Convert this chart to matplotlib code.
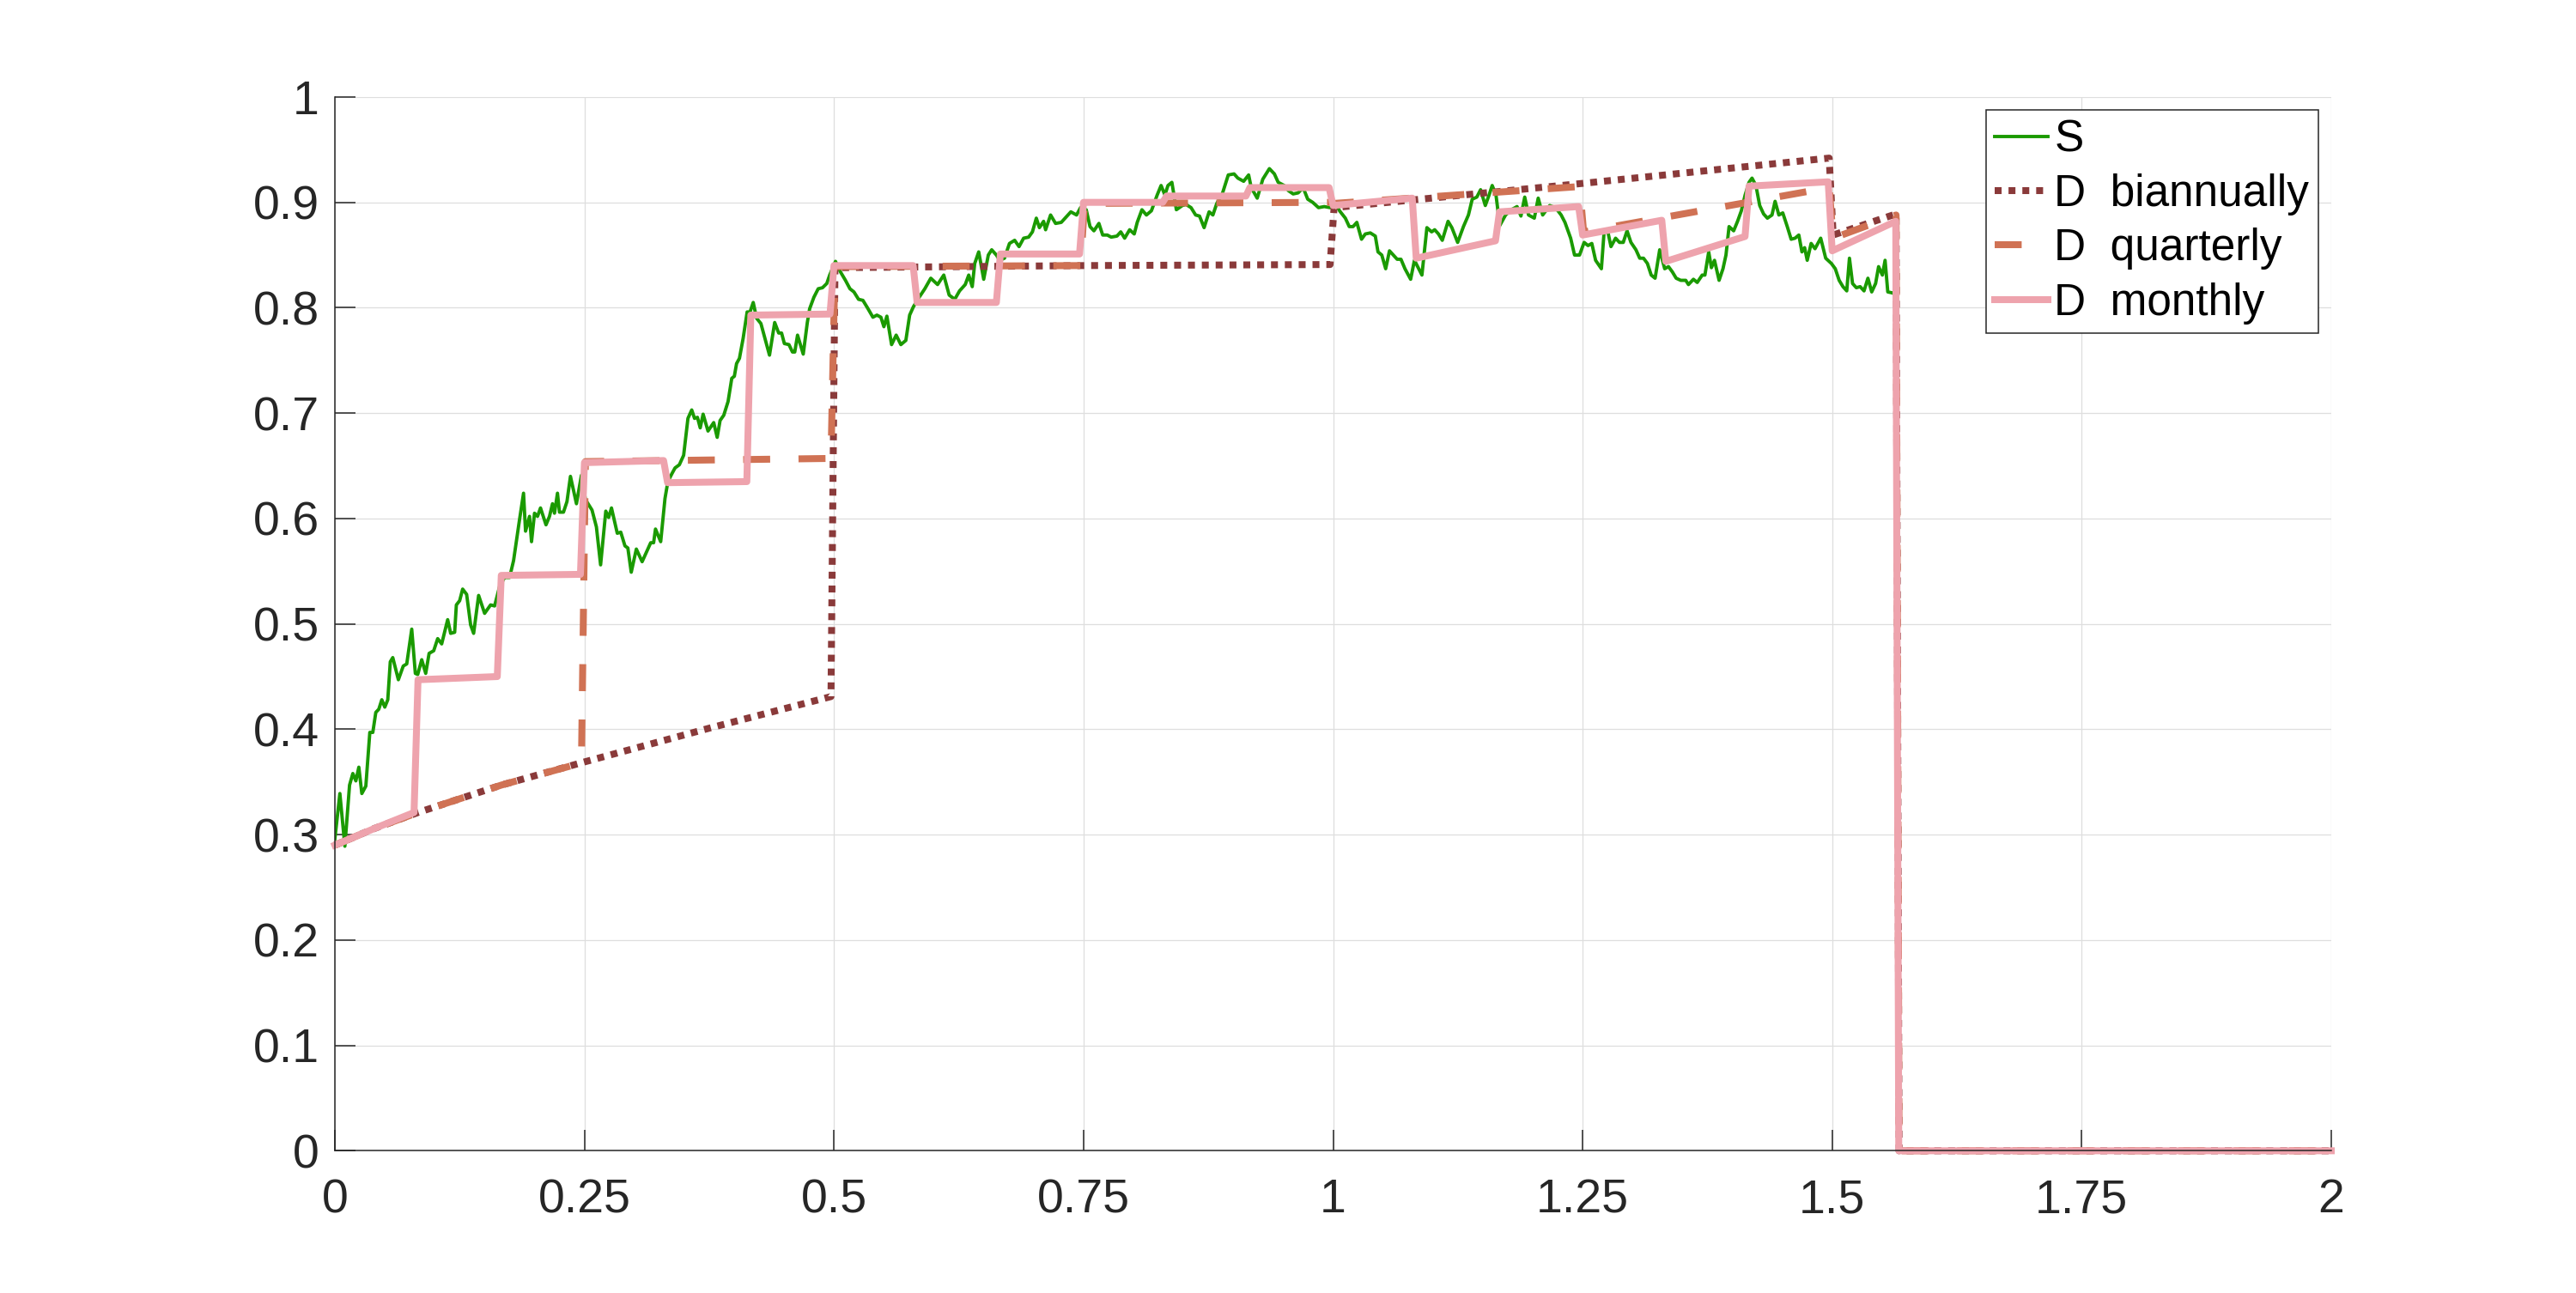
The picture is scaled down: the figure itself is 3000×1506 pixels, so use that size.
import numpy as np
import matplotlib.pyplot as plt

# S path
s_t = [0.000, 0.005, 0.010, 0.0147, 0.018, 0.021, 0.024, 0.027, 0.031, 0.035, 0.038, 0.041, 0.044, 0.047,
       0.050, 0.053, 0.0555, 0.058, 0.0636, 0.0685, 0.072, 0.077, 0.0806, 0.083, 0.087, 0.091, 0.0944, 0.099,
       0.103, 0.107, 0.113, 0.116, 0.120, 0.1217, 0.125, 0.128, 0.132, 0.136, 0.139, 0.144, 0.150, 0.156,
       0.160, 0.165, 0.170, 0.175, 0.179, 0.185, 0.189, 0.191, 0.195, 0.197, 0.200, 0.203, 0.206, 0.2115,
       0.215, 0.218, 0.220, 0.223, 0.225, 0.229, 0.2325, 0.236, 0.242, 0.247, 0.251,
       0.2576, 0.262, 0.2662, 0.2714, 0.2743, 0.2771, 0.2829, 0.2864, 0.2906, 0.2935, 0.2969, 0.3020, 0.3078,
       0.3164, 0.3193, 0.3212, 0.3264, 0.3307, 0.3336, 0.3379, 0.3408, 0.3451, 0.3494, 0.3537, 0.3575, 0.3603,
       0.3632, 0.3660, 0.3689, 0.3738, 0.3795, 0.3830, 0.3859, 0.3896, 0.3939, 0.3976, 0.4002, 0.4024, 0.4053,
       0.4090, 0.4130, 0.4159, 0.4191, 0.4225, 0.4268, 0.4311, 0.4354, 0.4406, 0.4446, 0.4475, 0.4503, 0.4549,
       0.4584, 0.4607, 0.4635, 0.4692, 0.4733, 0.4756, 0.4799, 0.4842, 0.4885, 0.4928, 0.4957,
       0.5015, 0.5065, 0.5115, 0.516, 0.520, 0.5246, 0.529, 0.5335, 0.539, 0.543, 0.547, 0.550, 0.553, 0.5577,
       0.5623, 0.567, 0.572, 0.5758, 0.5796, 0.5854, 0.591, 0.597, 0.6038, 0.610, 0.6154, 0.621, 0.6258, 0.6315,
       0.635, 0.6385, 0.641, 0.645, 0.650, 0.6546, 0.658, 0.6627, 0.666, 0.6708, 0.6758, 0.681, 0.6854, 0.690,
       0.695, 0.6988, 0.7027, 0.7058, 0.710, 0.712, 0.717, 0.722, 0.7277, 0.7335, 0.7373, 0.743, 0.747, 0.7527,
       0.7565, 0.7604, 0.7654, 0.7692, 0.7738, 0.7777, 0.7835, 0.7873, 0.7912, 0.7962, 0.8008, 0.8038, 0.8085,
       0.813, 0.818, 0.8238, 0.8277, 0.8315, 0.8346, 0.8385, 0.843, 0.849, 0.8527, 0.8577, 0.8623, 0.8662,
       0.8708, 0.8758, 0.8796, 0.8835, 0.889, 0.895, 0.9008, 0.9046, 0.9104, 0.9154, 0.918, 0.924, 0.9296,
       0.9362, 0.9412, 0.945, 0.951, 0.9554, 0.960, 0.965, 0.970, 0.9746, 0.9796, 0.9854, 0.9912, 0.9969,
       1.0027, 1.0065, 1.0123, 1.0162, 1.020, 1.0238, 1.0285, 1.0323, 1.0373, 1.0423, 1.045, 1.0488, 1.0527,
       1.0565, 1.0604, 1.0642, 1.068, 1.072, 1.0777, 1.0815,
       1.0826, 1.089, 1.094, 1.0987, 1.1018, 1.1056, 1.1094, 1.1152, 1.119, 1.1248, 1.1306, 1.1356, 1.1394,
       1.144, 1.1478, 1.1525, 1.1563, 1.1594, 1.1632, 1.167, 1.1728, 1.1786, 1.1843, 1.1882, 1.192, 1.1958,
       1.2016, 1.2055, 1.21, 1.217, 1.2228, 1.2285, 1.2323, 1.238, 1.2419, 1.2469, 1.2515, 1.2554, 1.2592,
       1.263, 1.2688, 1.2715, 1.2753, 1.2784, 1.283, 1.2869, 1.2907, 1.2945, 1.2984, 1.3034, 1.3072, 1.311,
       1.3149, 1.3187, 1.3226, 1.3272, 1.3322, 1.336, 1.3399, 1.3437, 1.3483, 1.3533, 1.3560, 1.361, 1.3648,
       1.3698, 1.3725, 1.3763, 1.379, 1.3821, 1.3867, 1.3906, 1.3936, 1.3967, 1.4013, 1.4052, 1.409, 1.4128,
       1.4167, 1.4197, 1.4236, 1.4274, 1.4313, 1.4351, 1.4397, 1.4428, 1.4466, 1.4505, 1.455, 1.4589, 1.4628,
       1.4666, 1.4697, 1.4724, 1.475, 1.4789, 1.4828, 1.4885, 1.4935, 1.4992, 1.5031, 1.507, 1.5108, 1.5146,
       1.5173, 1.5204, 1.5242, 1.528, 1.5319, 1.5358, 1.5396, 1.5435, 1.5465, 1.5503, 1.553, 1.5557, 1.5607,
       1.5620]
s_v = [0.296, 0.339, 0.289, 0.347, 0.358, 0.351, 0.364, 0.339, 0.346, 0.397, 0.397, 0.416, 0.419, 0.428,
       0.421, 0.428, 0.464, 0.468, 0.447, 0.460, 0.462, 0.495, 0.453, 0.452, 0.466, 0.453, 0.472, 0.4745,
       0.486, 0.481, 0.504, 0.491, 0.492, 0.518, 0.522, 0.533, 0.528, 0.499, 0.491, 0.527, 0.510, 0.518,
       0.517, 0.5355, 0.544, 0.544, 0.560, 0.599, 0.624, 0.588, 0.602, 0.578, 0.605, 0.602, 0.610, 0.594,
       0.602, 0.614, 0.605, 0.624, 0.606, 0.606, 0.616, 0.640, 0.614, 0.641, 0.618,
       0.608, 0.592, 0.556, 0.607, 0.601, 0.610, 0.586, 0.587, 0.574, 0.572, 0.549, 0.571, 0.559,
       0.577, 0.577, 0.590, 0.578, 0.619, 0.635, 0.643, 0.648, 0.651, 0.660, 0.695, 0.703, 0.695,
       0.696, 0.686, 0.699, 0.683, 0.691, 0.677, 0.693, 0.698, 0.711, 0.733, 0.735, 0.747, 0.752,
       0.771, 0.796, 0.796, 0.805, 0.790, 0.785, 0.770, 0.755, 0.786, 0.776, 0.776, 0.766, 0.765,
       0.758, 0.758, 0.774, 0.756, 0.786, 0.799, 0.810, 0.818, 0.819, 0.823, 0.831,
       0.844, 0.834, 0.826, 0.818, 0.815, 0.808, 0.807, 0.800, 0.791, 0.793, 0.791, 0.782, 0.792, 0.765,
       0.774, 0.765, 0.769, 0.793, 0.801, 0.810, 0.818, 0.828, 0.822, 0.831, 0.812, 0.808, 0.816, 0.822,
       0.831, 0.820, 0.842, 0.853, 0.827, 0.850, 0.855, 0.850, 0.845, 0.847, 0.861, 0.864, 0.858, 0.866,
       0.867, 0.872, 0.885, 0.876, 0.882, 0.874, 0.888, 0.880, 0.881, 0.887, 0.891, 0.888, 0.895, 0.893,
       0.877, 0.873, 0.880, 0.869, 0.869, 0.867, 0.868, 0.872, 0.866, 0.874, 0.870, 0.881, 0.893,
       0.888, 0.892, 0.907, 0.916, 0.907, 0.916, 0.919, 0.893, 0.897, 0.898, 0.895, 0.888, 0.887,
       0.876, 0.891, 0.888, 0.899, 0.908, 0.926, 0.927, 0.923, 0.920, 0.926, 0.914, 0.904, 0.922,
       0.932, 0.927, 0.919, 0.916, 0.911, 0.908, 0.909, 0.914, 0.903, 0.900, 0.895, 0.896, 0.895,
       0.899, 0.892, 0.885, 0.877, 0.877, 0.881, 0.865, 0.870, 0.871, 0.868, 0.853, 0.850, 0.837,
       0.854, 0.850, 0.846, 0.846, 0.837, 0.827, 0.845,
       0.843, 0.831, 0.876, 0.872, 0.874, 0.870, 0.864, 0.882, 0.876, 0.862, 0.877, 0.888, 0.903,
       0.905, 0.912, 0.897, 0.907, 0.916, 0.907, 0.878, 0.888, 0.893, 0.896, 0.887, 0.905, 0.888,
       0.885, 0.904, 0.888, 0.897, 0.895, 0.888, 0.881, 0.866, 0.850, 0.850, 0.862, 0.859, 0.861,
       0.845, 0.837, 0.872, 0.872, 0.858, 0.866, 0.862, 0.862, 0.873, 0.862, 0.855, 0.847, 0.847,
       0.842, 0.831, 0.828, 0.855, 0.837, 0.839, 0.834, 0.828, 0.826, 0.826, 0.822, 0.827, 0.824,
       0.831, 0.831, 0.853, 0.838, 0.845, 0.826, 0.837, 0.850, 0.877, 0.873, 0.882, 0.892, 0.907,
       0.919, 0.923, 0.916, 0.897, 0.889, 0.885, 0.888, 0.901, 0.888, 0.890, 0.877, 0.865, 0.866,
       0.869, 0.853, 0.857, 0.845, 0.861, 0.856, 0.866, 0.847, 0.842, 0.837, 0.826, 0.820, 0.816,
       0.847, 0.823, 0.819, 0.820, 0.816, 0.828, 0.815, 0.823, 0.839, 0.831, 0.845, 0.815, 0.814,
       0.813]

# D, rebalanced every six months
d_bi_t = [0, 0.04, 0.0833, 0.1667, 0.25, 0.375, 0.497, 0.501, 0.75, 0.997, 1.001, 1.25, 1.497, 1.501, 1.564, 1.567, 2.0]
d_bi_v = [0.290, 0.306, 0.321, 0.347, 0.369, 0.401, 0.431, 0.838, 0.840, 0.841, 0.895, 0.918, 0.942, 0.869, 0.889, 0, 0]

# D, rebalanced every quarter
d_q_t = [0, 0.04, 0.0833, 0.1667, 0.247, 0.251, 0.497, 0.501, 0.747, 0.751, 0.997, 1.001, 1.247, 1.251,
         1.497, 1.501, 1.564, 1.567, 2.0]
d_q_v = [0.290, 0.306, 0.321, 0.347, 0.368, 0.654, 0.657, 0.839, 0.840, 0.899, 0.900, 0.899, 0.915, 0.872,
         0.914, 0.866, 0.888, 0, 0]

# D, rebalanced every month
d_m_t = [0, 0.04, 0.0793, 0.0833, 0.1627, 0.1667, 0.246, 0.25, 0.3293, 0.3333, 0.4127, 0.4167,
         0.496, 0.5, 0.5793, 0.5833, 0.6627, 0.6667, 0.746, 0.75, 0.8293, 0.8333, 0.9127, 0.9167,
         0.996, 1.0, 1.0793, 1.0833, 1.1627, 1.1667, 1.246, 1.25, 1.3293, 1.3333, 1.4127, 1.4167,
         1.496, 1.5, 1.5637, 1.5667, 2.0]
d_m_v = [0.290, 0.306, 0.321, 0.447, 0.450, 0.546, 0.547, 0.653, 0.655, 0.634, 0.635, 0.793,
         0.794, 0.840, 0.840, 0.805, 0.805, 0.851, 0.851, 0.900, 0.900, 0.906, 0.906, 0.914,
         0.914, 0.897, 0.904, 0.847, 0.8635, 0.891, 0.896, 0.869, 0.883, 0.844, 0.8676, 0.9154,
         0.9195, 0.854, 0.882, 0, 0]

x_ticks = [0, 0.25, 0.5, 0.75, 1, 1.25, 1.5, 1.75, 2]
x_labels = ['0', '0.25', '0.5', '0.75', '1', '1.25', '1.5', '1.75', '2']
y_ticks = [0, 0.1, 0.2, 0.3, 0.4, 0.5, 0.6, 0.7, 0.8, 0.9, 1]
y_labels = ['0', '0.1', '0.2', '0.3', '0.4', '0.5', '0.6', '0.7', '0.8', '0.9', '1']

plt.rcParams['font.family'] = ['Liberation Sans', 'DejaVu Sans']

fig = plt.figure(figsize=(30, 15.06), dpi=100)
ax = fig.add_axes([0.13, 0.11, 0.775, 0.815])

ax.plot(s_t, s_v, color='#1a9a00', lw=2.8, label='S', solid_joinstyle='round')
ax.plot(d_bi_t, d_bi_v, color='#8a3a3a', lw=5.8, linestyle=(0, (1.0, 1.0)),
        dash_capstyle='butt', label='D  biannually', clip_on=False)
ax.plot(d_q_t, d_q_v, color='#d07254', lw=5.8, linestyle=(0, (3.9, 4.1)),
        dash_capstyle='butt', label='D  quarterly', clip_on=False)
ax.plot(d_m_t, d_m_v, color='#eea3ad', lw=5.8, solid_joinstyle='round',
        label='D  monthly', clip_on=False)

ax.set_xlim(0, 2)
ax.set_ylim(0, 1)
ax.set_xticks(x_ticks)
ax.set_xticklabels(x_labels)
ax.set_yticks(y_ticks)
ax.set_yticklabels(y_labels)

ax.grid(True, color='#dedede', lw=0.9)
ax.set_axisbelow(True)
for side in ['top', 'right']:
    ax.spines[side].set_visible(False)
for side in ['left', 'bottom']:
    ax.spines[side].set_color('#262626')
    ax.spines[side].set_linewidth(1.1)

ax.tick_params(direction='in', length=17, width=1.1, color='#262626',
               labelcolor='#262626', labelsize=40)
ax.tick_params(axis='x', pad=23)
ax.tick_params(axis='y', pad=13)

leg = ax.legend(loc='upper right', fontsize=37, frameon=True, fancybox=False,
                framealpha=1, edgecolor='#262626', borderpad=0.2, borderaxespad=0.3,
                handlelength=1.2, handletextpad=0.15, labelspacing=0.28)
leg.get_frame().set_linewidth(1.1)

fig.savefig('out.png', dpi=100, facecolor='white')
